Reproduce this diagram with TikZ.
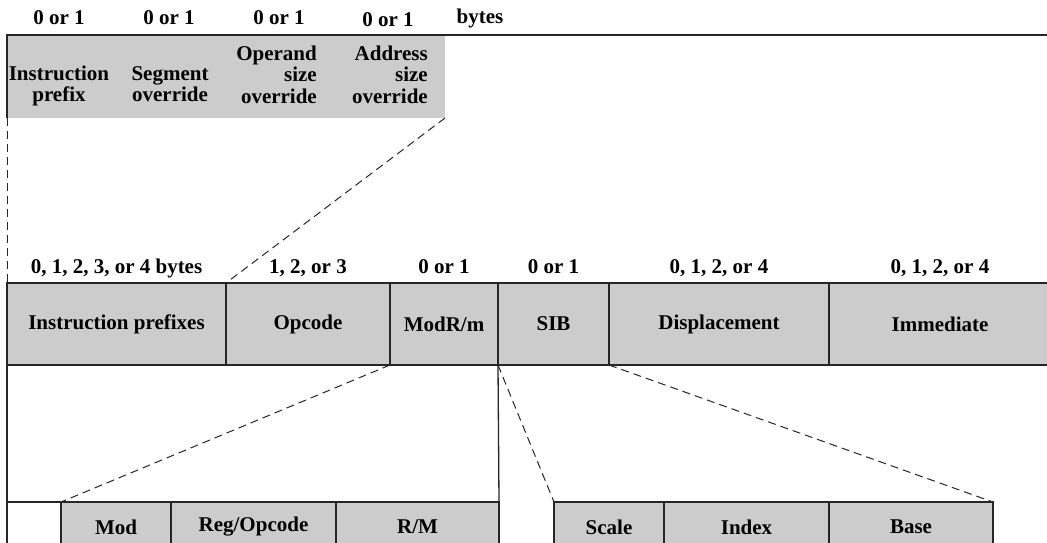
\documentclass[tikz,border=0pt]{standalone}
\usepackage{fontspec}
\setmainfont{Liberation Serif}
\usetikzlibrary{positioning}

\begin{document}
\begin{tikzpicture}[x=1pt, y=-1pt, font=\fontsize{21}{21.5}\selectfont\bfseries,
  frame/.style={draw=black!85, line width=1.3pt},
  cell/.style={frame, fill=gray!40, inner sep=0pt, outer sep=0pt, minimum height=82pt},
  subcell/.style={cell, minimum height=50pt},
  guide/.style={draw=black!85, line width=1pt, dash pattern=on 8pt off 5pt},
  bytes/.style={inner sep=0pt, anchor=base}]
  \useasboundingbox (0,0) rectangle (1047,543);
  \coordinate (byteline) at (0,273);
  \coordinate (edge) at (1047,35);
  % prefix detail
  \node[fill=gray!40, inner sep=0pt, outer sep=0pt, minimum width=438pt, minimum height=83pt, anchor=north west] (pfx) at (7,35) {};
  \node[align=center, inner sep=0pt, anchor=base] (ip) at (59,102) {Instruction\\prefix};
  \node[align=center, inner sep=0pt, anchor=base] (so) at (170,102) {Segment\\override};
  \node[align=right, inner sep=0pt, anchor=base east] (os) at (317,103) {Operand\\size\\override};
  \node[align=right, inner sep=0pt, anchor=base east] (as) at (428,103) {Address\\size\\override};
  \node[bytes] (ipB) at (59,25) {0 or 1};
  \node[bytes] (soB) at (169,25) {0 or 1};
  \node[bytes] (osB) at (279,25) {0 or 1};
  \node[bytes] (asB) at (388,27) {0 or 1};
  \node[bytes] (unit) at (480,24) {bytes};
  % instruction format
  \node[cell, minimum width=219pt, anchor=north west] (pre) at (7,283) {Instruction prefixes};
  \node[cell, minimum width=164pt, right=0pt of pre] (opc) {Opcode};
  \node[cell, minimum width=108pt, right=0pt of opc] (modrm) {ModR/m};
  \node[cell, minimum width=111pt, right=0pt of modrm] (sib) {SIB};
  \node[cell, minimum width=220pt, right=0pt of sib] (disp) {Displacement};
  \node[cell, minimum width=222pt, right=0pt of disp] (imm) {Immediate};
  \node[bytes] (preB) at (pre.north |- byteline) {0, 1, 2, 3, or 4 bytes};
  \node[bytes] (opcB) at (opc.north |- byteline) {1, 2, or 3};
  \node[bytes] (modrmB) at (modrm.north |- byteline) {0 or 1};
  \node[bytes] (sibB) at (sib.north |- byteline) {0 or 1};
  \node[bytes] (dispB) at (disp.north |- byteline) {0, 1, 2, or 4};
  \node[bytes] (immB) at (imm.north |- byteline) {0, 1, 2, or 4};
  % ModR/M and SIB detail
  \node[subcell, fill=white, minimum width=54pt, anchor=north west] (pad) at (7,502) {};
  \node[subcell, minimum width=110pt, right=0pt of pad] (mod) {Mod};
  \node[subcell, minimum width=165pt, right=0pt of mod] (reg) {Reg/Opcode};
  \node[subcell, minimum width=163pt, right=0pt of reg] (rm) {R/M};
  \node[subcell, minimum width=110pt, anchor=north west] (scale) at (554,502) {Scale};
  \node[subcell, minimum width=165pt, right=0pt of scale] (index) {Index};
  \node[subcell, minimum width=164pt, right=0pt of index] (base) {Base};
  \draw[frame] (pfx.south west) |- (edge);
  \draw[guide] (pfx.south west) -- (pre.north west);
  \draw[guide] (pfx.south east) -- (opc.north west);
  \draw[frame] (pre.south west) -- (pad.north west);
  \draw[frame] (modrm.south east) -- (rm.north east);
  \draw[guide] (modrm.south west) -- (mod.north west);
  \draw[guide] (sib.south west) -- (scale.north west);
  \draw[guide] (sib.south east) -- (base.north east);
\end{tikzpicture}
\end{document}
